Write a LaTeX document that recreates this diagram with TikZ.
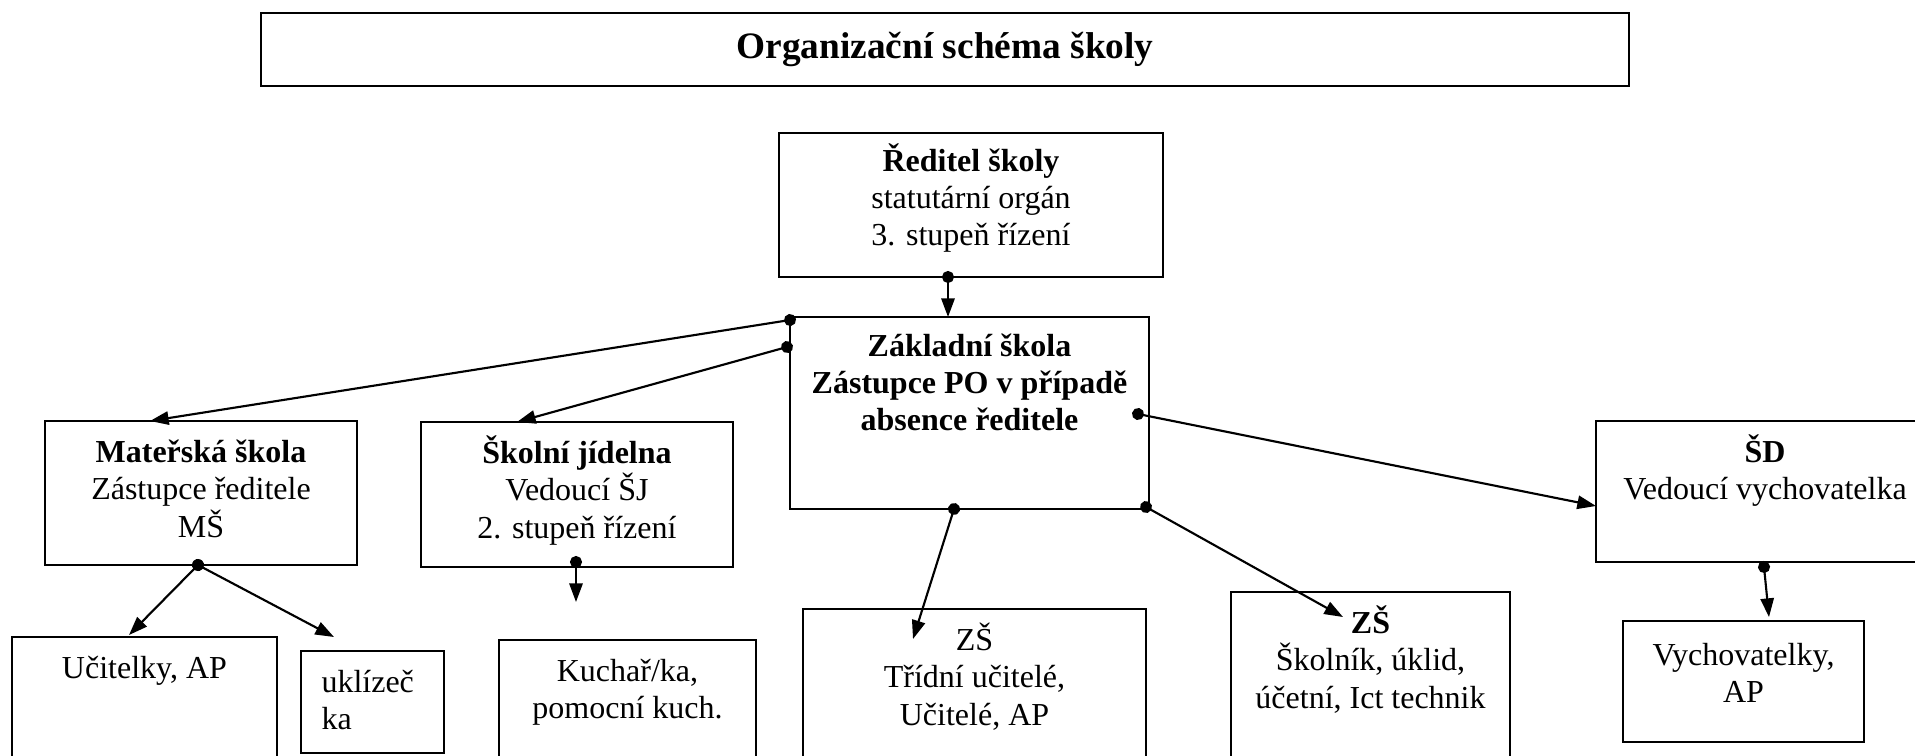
\documentclass[tikz,border=0pt]{standalone}
\usepackage{fontspec}
\setmainfont{Liberation Serif}
\usetikzlibrary{arrows.meta, calc}
\newcommand{\tstrut}{\rule{0pt}{11.5pt}}

\begin{document}
\begin{tikzpicture}[x=0.375pt, y=-0.375pt,
    box/.style 2 args={draw, line width=0.8pt, anchor=north west, inner sep=0pt, outer sep=0pt, minimum width=#1*0.375pt, minimum height=#2*0.375pt},
    txt/.style={anchor=north, yshift=-4pt, inner sep=0pt, align=center, font=\fontsize{12}{13.9}\selectfont},
    conn/.style={{Circle[length=4.5pt]}-{Triangle[length=7pt, width=5pt]}, line width=0.8pt, shorten <=-2.25pt}]
    \useasboundingbox (0,0) rectangle (1915,756);
    \fill[white] (0,0) rectangle (1915,756);
    % header
    \node[box={1368}{73}, font=\fontsize{14}{16}\selectfont\bfseries] (title) at (261,13) {Organizační schéma školy};
    % top levels
    \node[box={384}{144}, label={[txt, yshift=1.4pt]north:{\tstrut\textbf{Ředitel školy}\\statutární orgán\\3. stupeň řízení}}] (red) at (779,133) {};
    \node[box={359}{192}, label={[txt, font=\fontsize{12}{13.9}\selectfont\bfseries, yshift=1pt]north:{\tstrut Základní škola\\Zástupce PO v případě\\absence ředitele}}] (zs) at (790,317) {};
    \node[box={312}{144}, label={[txt]north:{\tstrut\textbf{Mateřská škola}\\Zástupce ředitele\\MŠ}}] (ms) at (45,421) {};
    \node[box={312}{145}, label={[txt]north:{\tstrut\textbf{Školní jídelna}\\Vedoucí ŠJ\\2. stupeň řízení}}] (sj) at (421,422) {};
    \node[box={338}{141}, label={[txt]north:{\tstrut\textbf{ŠD}\\Vedoucí vychovatelka}}] (sd) at (1596,421) {};
    % bottom row
    \node[box={265}{140}, label={[txt]north:{\tstrut Učitelky, AP}}] (ucit) at (12,637) {};
    \node[box={143}{102}, label={[txt, anchor=north west, align=left, xshift=7.5pt]north west:{\tstrut uklízeč\\ka}}] (ukl) at (301,651) {};
    \node[box={257}{140}, label={[txt]north:{\tstrut Kuchař/ka,\\pomocní kuch.}}] (kuch) at (499,640) {};
    \node[box={343}{170}, label={[txt]north:{\tstrut ZŠ\\Třídní učitelé,\\Učitelé, AP}}] (tridni) at (803,609) {};
    \node[box={279}{180}, label={[txt]north:{\tstrut\textbf{ZŠ}\\Školník, úklid,\\účetní, Ict technik}}] (skolnik) at (1231,592) {};
    \node[box={241}{121}, label={[txt, yshift=-0.8pt]north:{\tstrut Vychovatelky,\\AP}}] (vych) at (1623,621) {};
    % connectors
    \draw[conn] ($(red.south west)+(169,0)$) -- ($(zs.north west)+(158,0)$);
    \draw[conn] ($(zs.north west)+(0,3)$) -- ($(ms.north west)+(105,0)$);
    \draw[conn] ($(zs.north west)+(-3,30)$) -- ($(sj.north west)+(96,0)$);
    \draw[conn] ($(zs.north east)+(-11,97)$) -- ($(sd.north west)+(0,85)$);
    \draw[conn] ($(zs.south west)+(164,0)$) -- ($(tridni.north west)+(110,30)$);
    \draw[conn] ($(zs.south east)+(-3,-2)$) -- ($(skolnik.north west)+(112,25)$);
    \draw[conn] ($(ms.south west)+(153,0)$) -- ($(ucit.north west)+(117,-2)$);
    \draw[conn] ($(ms.south west)+(153,0)$) -- ($(ukl.north west)+(33,-14)$);
    \draw[conn] ($(sj.south west)+(155,-5)$) -- ($(kuch.north west)+(77,-38)$);
    \draw[conn] ($(sd.south west)+(168,5)$) -- ($(vych.north west)+(146,-4)$);
\end{tikzpicture}
\end{document}
